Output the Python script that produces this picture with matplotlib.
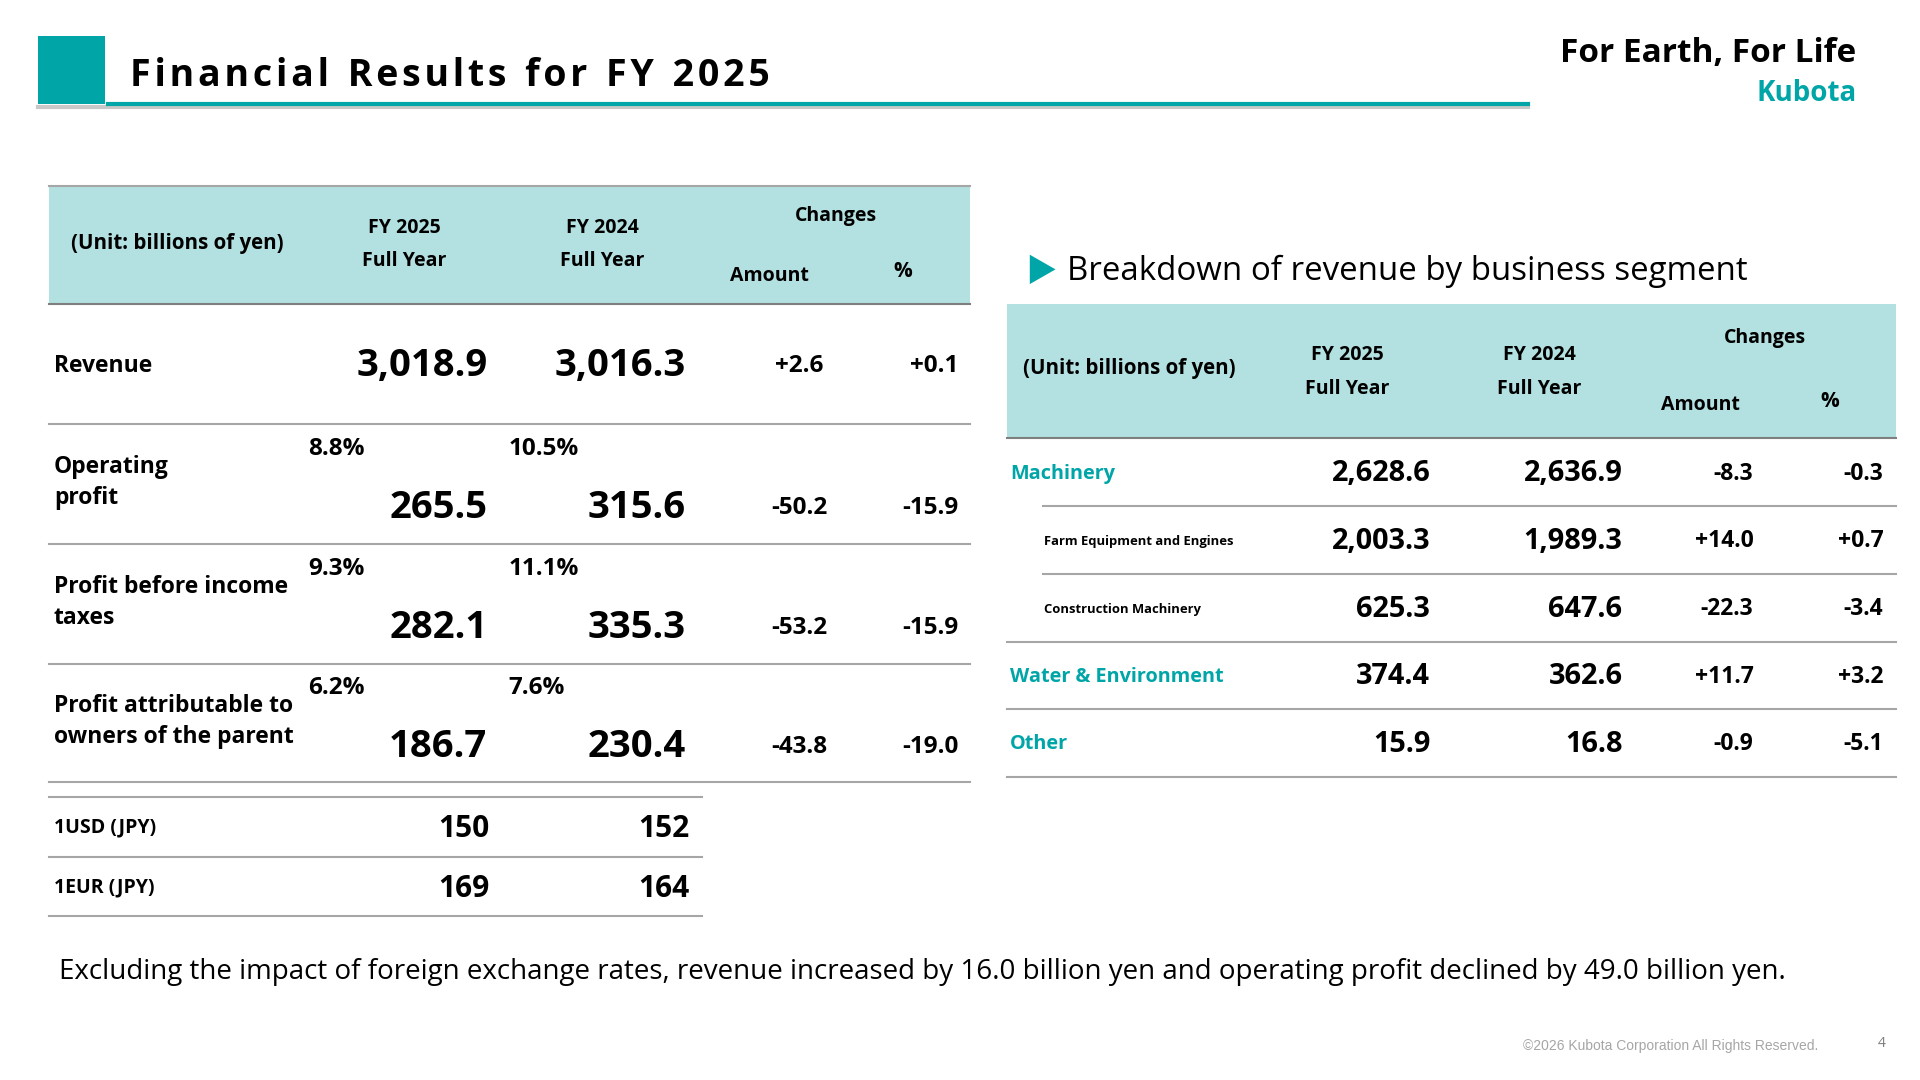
import matplotlib
matplotlib.use("Agg")
import matplotlib.pyplot as plt
from matplotlib.lines import Line2D
from matplotlib.patches import Rectangle, Polygon

W, H = 1568.0, 882.0
TEAL = "#00a5a8"
BAND = "#b3e0e0"
LINE = "#a6a6a6"
plt.rcParams['font.family'] = ['Open Sans', 'DejaVu Sans']

# ---- data ----
left_rows = ["Revenue", "Operating\nprofit", "Profit before income\ntaxes", "Profit attributable to\nowners of the parent"]
left_fy25 = ["3,018.9", "265.5", "282.1", "186.7"]
left_fy24 = ["3,016.3", "315.6", "335.3", "230.4"]
left_amt = ["+2.6", "-50.2", "-53.2", "-43.8"]
left_pct = ["+0.1", "-15.9", "-15.9", "-19.0"]
margin25 = [None, "8.8%", "9.3%", "6.2%"]
margin24 = [None, "10.5%", "11.1%", "7.6%"]
fx_rows = ["1USD (JPY)", "1EUR (JPY)"]
fx25 = ["150", "169"]
fx24 = ["152", "164"]
seg_rows = ["Machinery", "Farm Equipment and Engines", "Construction Machinery", "Water & Environment", "Other"]
seg_level = [0, 1, 1, 0, 0]
seg25 = ["2,628.6", "2,003.3", "625.3", "374.4", "15.9"]
seg24 = ["2,636.9", "1,989.3", "647.6", "362.6", "16.8"]
seg_amt = ["-8.3", "+14.0", "-22.3", "+11.7", "-0.9"]
seg_pct = ["-0.3", "+0.7", "-3.4", "+3.2", "-5.1"]

fig = plt.figure(figsize=(19.2, 10.8), dpi=100)
def P(x, y): return (x / W, 1 - y / H)
def T(x, y, s, **kw):
    kw.setdefault("va", "center"); kw.setdefault("weight", "bold"); kw.setdefault("color", "black")
    fig.text(*P(x, y), s, **kw)
def L(x0, x1, y, c=LINE, lw=1.5):
    fig.add_artist(Line2D([x0 / W, x1 / W], [1 - y / H] * 2, color=c, lw=lw))
def R(x0, y0, x1, y1, c):
    fig.add_artist(Rectangle(P(x0, y1), (x1 - x0) / W, (y1 - y0) / H, color=c, lw=0))

# header
R(31, 29, 86, 85, TEAL)
L(31, 1248, 87, c="#c8c8c8", lw=3)
L(88, 1248, 85, c=TEAL, lw=3)
T(106, 62, "F i n a n c i a l   R e s u l t s   f o r   F Y   2 0 2 5".replace("   ", "\u2002").replace(" ", "\u200a"),
  fontsize=27, ha="left")
T(1516, 44, "For Earth, For Life", fontsize=24, ha="right")
T(1516, 76, "Kubota", fontsize=20, color=TEAL, ha="right")

# left table
R(40, 152, 792, 248, BAND)
L(40, 792, 152); L(40, 792, 248, c="#7f7f7f")
T(145, 199, "(Unit: billions of yen)", fontsize=14.8, ha="center")
for cx, lab in [(330, "FY 2025"), (492, "FY 2024")]:
    T(cx, 186, lab, fontsize=14, ha="center"); T(cx, 213, "Full Year", fontsize=14, ha="center")
T(683, 176, "Changes", fontsize=14, ha="center")
T(628, 225, "Amount", fontsize=14, ha="center")
T(737, 222, "%", fontsize=15, ha="center")
bottoms = [346, 444, 542, 639]
for i, lab in enumerate(left_rows):
    yb = bottoms[i]; top = yb - 98
    yn = 299 if i == 0 else yb - 29
    ylab = 299 if i == 0 else top + 48
    T(44, ylab, lab, fontsize=16.5, ha="left", linespacing=1.4)
    T(398, yn, left_fy25[i], fontsize=27.5, ha="right")
    T(560, yn, left_fy24[i], fontsize=27.5, ha="right")
    T(653, yn, left_amt[i], fontsize=17.5, ha="center")
    T(783, yn, left_pct[i], fontsize=17.5, ha="right")
    if margin25[i]:
        T(252, top + 21, margin25[i], fontsize=17.5, ha="left")
        T(415, top + 21, margin24[i], fontsize=17.5, ha="left")
    L(40, 792, yb)
L(40, 573, 651)
for i, lab in enumerate(fx_rows):
    yc = 676 + 49 * i
    T(44, yc, lab, fontsize=14, ha="left")
    T(400, yc + 1, fx25[i], fontsize=21.5, ha="right")
    T(563, yc + 1, fx24[i], fontsize=21.5, ha="right")
    L(40, 573, 700 + 48 * i)

# right table
fig.add_artist(Polygon([P(841, 208), P(841, 232), P(862, 220)], closed=True, color=TEAL, lw=0))
T(871, 222, "Breakdown of revenue by business segment", fontsize=23.8, weight="normal", ha="left")
R(822, 248, 1548, 358, BAND)
L(822, 1548, 358, c="#7f7f7f")
T(922, 301, "(Unit: billions of yen)", fontsize=14.8, ha="center")
for cx, lab in [(1100, "FY 2025"), (1257, "FY 2024")]:
    T(cx, 290, lab, fontsize=14, ha="center"); T(cx, 318, "Full Year", fontsize=14, ha="center")
T(1441, 276, "Changes", fontsize=14, ha="center")
T(1389, 331, "Amount", fontsize=14, ha="center")
T(1494, 328, "%", fontsize=15, ha="center")
for i, lab in enumerate(seg_rows):
    yc = 387 + 55.2 * i
    if seg_level[i] == 0:
        T(825, yc, lab, fontsize=14.3, color=TEAL, ha="left")
    else:
        T(853, yc, lab, fontsize=9.4, ha="left")
    T(1168, yc, seg25[i], fontsize=20.8, ha="right")
    T(1325, yc, seg24[i], fontsize=20.8, ha="right")
    T(1432, yc, seg_amt[i], fontsize=16.5, ha="right")
    T(1538, yc, seg_pct[i], fontsize=16.5, ha="right")
    x0 = 852 if i < 2 else 822
    L(x0, 1548, yc + 26.5)

T(48, 794, "Excluding the impact of foreign exchange rates, revenue increased by 16.0 billion yen and operating profit declined by 49.0 billion yen.",
  fontsize=20, weight="normal", ha="left")
T(1485, 854, "©2026 Kubota Corporation All Rights Reserved.", fontsize=10, weight="normal", color="#a6a6a6", ha="right", family="Liberation Sans")
T(1537, 852, "4", fontsize=10, weight="normal", color="#7f7f7f", ha="center")

fig.savefig("out.png", dpi=100)
